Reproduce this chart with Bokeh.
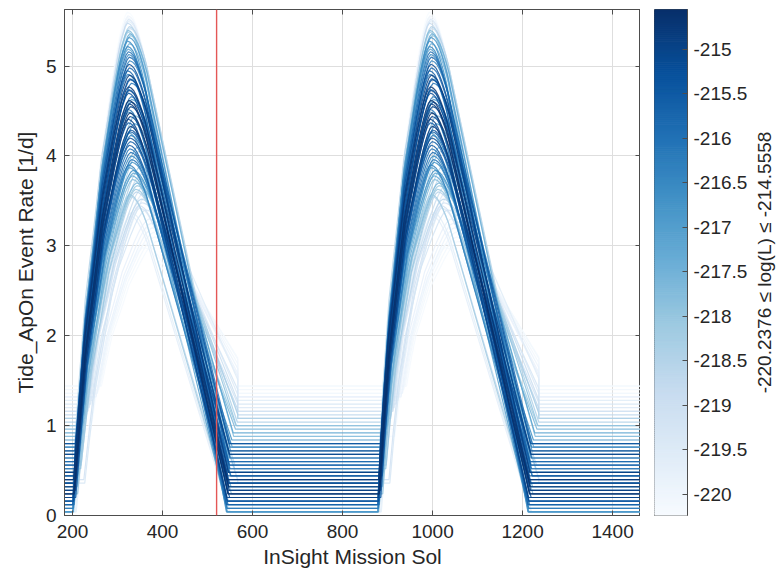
import numpy as np
from bokeh.plotting import figure
from bokeh.models import Range1d, LinearAxis, FixedTicker, Span, LinearColorMapper, ColumnDataSource
from bokeh.palettes import Blues9
from bokeh.layouts import row
from bokeh.embed import file_html
from bokeh.resources import INLINE

# ---------------- data ----------------
X_MIN, X_MAX = 182, 1462
Y_MIN, Y_MAX = 0, 5.63
L_MIN, L_MAX = -220.2376, -214.5558
RED_SOL = 520

# common seasonal shape (fraction of amplitude) at sols of each cycle
SHAPE_FRAC = [0.0, 0.165, 0.35, 0.53, 0.70, 0.87, 0.93, 0.958, 0.978, 0.993, 1.0,
              0.997, 0.99, 0.977, 0.96, 0.937, 0.91, 0.0]
CYCLE1_SOL = [200, 211, 224, 244, 262, 289, 300, 306, 312, 317, 322,
              328, 334, 340, 346, 353, 360, 542]
CYCLE2_SOL = [878, 887, 899, 917, 934, 961, 972, 978, 983, 988, 993,
              999, 1005, 1011, 1017, 1024, 1031, 1212]
CUT_SOL = [567, 1236]

# one entry per model curve: baseline rate, peak rate, onset shift (sols), log-likelihood
BASE = [0.24, 0.32, 0.40, 0.28, 0.48, 0.20, 0.68, 0.72, 0.44, 0.16, 0.80, 0.36, 0.56,
        0.12, 0.60, 0.52, 0.28, 0.44, 0.08, 0.76, 0.32, 0.16,
        0.04, 0.84, 0.48, 0.04, 0.92, 0.32, 0.64, 0.96, 0.04, 1.00, 0.52, 0.12, 1.08, 0.76,
        1.12, 0.04, 1.16, 0.40, 1.24, 0.24, 1.28, 0.04, 1.32, 0.16, 1.40, 1.44, 0.96, 0.08,
        0.24, 0.36, 0.40, 0.20, 0.48, 0.16, 0.64, 0.68, 0.36, 0.12, 0.80, 0.32, 0.56, 0.12,
        0.60, 0.52, 0.28, 0.44, 0.08, 0.72, 0.36, 0.20, 0.76, 0.48, 0.88, 0.24, 0.64, 1.00,
        0.04, 1.04, 0.56, 0.16, 1.08, 0.68, 1.16, 0.36, 1.20, 0.12, 1.32, 1.36, 0.04, 1.44,
        0.88, 0.04]
PEAK = [4.62, 4.48, 4.77, 4.33, 4.90, 4.41, 4.55, 4.20, 5.02, 4.70, 4.85, 4.12, 4.27,
        4.95, 5.10, 4.04, 5.16, 3.96, 4.52, 4.66, 3.90, 5.22,
        5.28, 3.84, 5.32, 4.26, 4.36, 3.78, 5.36, 3.70, 5.40, 4.10, 3.63, 3.57, 3.88, 5.44,
        3.52, 5.48, 3.66, 3.45, 3.40, 5.52, 3.58, 3.33, 3.25, 5.56, 3.15, 3.05, 2.98, 5.60,
        4.58, 4.44, 4.73, 4.29, 4.86, 4.37, 4.60, 4.16, 4.98, 4.74, 4.81, 4.08, 4.23, 4.91,
        5.06, 4.00, 5.13, 3.93, 4.49, 4.63, 3.87, 5.19, 3.81, 5.25, 4.45, 3.74, 5.34, 3.67,
        5.38, 4.05, 3.60, 3.55, 3.80, 5.42, 3.48, 3.42, 3.60, 5.50, 3.30, 3.20, 5.54, 3.10,
        3.02, 3.37]
SHIFT = [3, 5, 2, 6, 4, 1, 7, 5, 3, 2, 6, 4, 6,
         0, 4, 7, 2, 9, 1, 8, 3, 0,
         0, 12, 3, 2, 15, 10, 5, 20, 1, 22, 18, 4, 28, 4,
         30, 0, 34, 25, 40, 2, 45, 6, 52, 1, 58, 64, 35, 0,
         4, 6, 3, 7, 5, 2, 8, 6, 4, 3, 9, 5, 7, 1,
         5, 8, 3, 10, 2, 9, 4, 1, 13, 4, 16, 11, 6, 21,
         1, 24, 19, 5, 29, 5, 32, 27, 37, 2, 48, 55, 0, 61,
         38, 8]
LOGL = [-214.56, -214.62, -214.70, -214.78, -214.85, -214.93, -215.00, -215.10, -215.18,
        -215.25, -215.35, -215.45, -215.55, -215.65, -215.75, -215.85, -215.95, -216.05,
        -216.15, -216.25, -216.35, -216.45,
        -216.6, -216.7, -216.85, -217.0, -217.15, -217.3, -217.45, -217.6, -217.75, -217.9,
        -218.05, -218.2, -218.35, -218.5,
        -218.65, -218.8, -218.95, -219.1, -219.25, -219.4, -219.55, -219.7, -219.85, -219.95,
        -220.05, -220.15, -220.2, -220.23,
        -214.9, -215.05, -215.15, -215.3, -215.4, -215.5, -215.6, -215.7, -215.8, -215.9,
        -216.0, -216.1, -216.2, -216.3, -216.4, -216.5, -216.55, -216.65, -216.75, -216.9,
        -217.05, -217.2, -217.35, -217.5, -217.65, -217.8, -217.95, -218.1, -218.25, -218.4,
        -218.55, -218.7, -218.85, -219.0, -219.15, -219.3, -219.45, -219.6, -219.75, -219.9,
        -220.0, -220.1, -220.2, -219.65]

X_TICKS = [200, 400, 600, 800, 1000, 1200, 1400]
Y_TICKS = [0, 1, 2, 3, 4, 5]
CB_TICKS = [-220, -219.5, -219, -218.5, -218, -217.5, -217, -216.5, -216, -215.5, -215]
CB_TICK_LABELS = ["-220", "-219.5", "-219", "-218.5", "-218", "-217.5", "-217",
                  "-216.5", "-216", "-215.5", "-215"]
CB_TITLE = "-220.2376 \u2264 log(L) \u2264 -214.5558"
X_LABEL = "InSight Mission Sol"
Y_LABEL = "Tide_ApOn Event Rate [1/d]"

# ---------------- palette (white -> dark blue) ----------------
def hex2rgb(h):
    h = h.lstrip('#')
    return [int(h[i:i + 2], 16) for i in (0, 2, 4)]

stops = np.array([hex2rgb(c) for c in reversed(Blues9)], dtype=float)
pos = np.linspace(0, 1, len(stops))
tt = np.linspace(0, 1, 256)
palette = ['#%02x%02x%02x' % tuple(int(round(np.interp(t, pos, stops[:, k]))) for k in range(3)) for t in tt]
mapper = LinearColorMapper(palette=palette, low=L_MIN, high=L_MAX)

# ---------------- build curves ----------------
def build_curve(b, pk, dt):
    amp = pk - b
    xs, ys = [X_MIN], [b]
    for sols, cut in zip((CYCLE1_SOL, CYCLE2_SOL), CUT_SOL):
        s = np.array(sols, dtype=float) + dt
        v = b + amp * np.array(SHAPE_FRAC)
        keep = s <= cut
        xs += list(s[keep]); ys += list(v[keep])
        if not keep.all():
            vc = float(np.interp(cut, s, v))
            xs += [cut, cut]; ys += [vc, b]
    xs.append(X_MAX); ys.append(b)
    return xs, ys

order = np.argsort(LOGL)
XS, YS, LL = [], [], []
for i in order:
    x, y = build_curve(BASE[i], PEAK[i], SHIFT[i])
    XS.append(x); YS.append(y); LL.append(LOGL[i])
src = ColumnDataSource(dict(xs=XS, ys=YS, L=LL))

FONT = "Liberation Sans"
TXT = "#262626"
AX = "#4d4d4d"

p = figure(frame_width=576, frame_height=506, x_range=Range1d(X_MIN, X_MAX),
           y_range=Range1d(Y_MIN, Y_MAX), toolbar_location=None, output_backend="svg",
           min_border_left=64, min_border_right=0, min_border_top=9, min_border_bottom=67)
p.multi_line(xs='xs', ys='ys', source=src, line_width=1.2, line_alpha=0.85,
             line_color={'field': 'L', 'transform': mapper})
p.add_layout(Span(location=RED_SOL, dimension='height', line_color='#e45756', line_width=1.4))

p.xaxis.ticker = FixedTicker(ticks=X_TICKS)
p.yaxis.ticker = FixedTicker(ticks=Y_TICKS)
p.xaxis.axis_label = X_LABEL
p.yaxis.axis_label = Y_LABEL
for ax in (p.xaxis[0], p.yaxis[0]):
    ax.major_tick_in = 5
    ax.major_tick_out = 0
    ax.minor_tick_line_color = None
    ax.axis_line_color = AX
    ax.major_tick_line_color = AX
    ax.major_label_text_font = FONT
    ax.major_label_text_font_size = "19px"
    ax.major_label_text_color = TXT
    ax.axis_label_text_font = FONT
    ax.axis_label_text_font_size = "21px"
    ax.axis_label_text_font_style = "normal"
    ax.axis_label_text_color = TXT
p.yaxis.major_label_standoff = 8
p.yaxis.axis_label_standoff = 6
p.xaxis.major_label_standoff = 9
p.xaxis.axis_label_standoff = 4

# box ticks on the top and right edges (no labels)
for side, tick in (("above", X_TICKS), ("right", Y_TICKS)):
    a = LinearAxis(ticker=FixedTicker(ticks=tick), major_label_text_font_size="1px",
                   major_label_text_color=None, major_label_standoff=0,
                   major_tick_in=5, major_tick_out=0,
                   minor_tick_line_color=None, axis_line_color=AX, major_tick_line_color=AX)
    p.add_layout(a, side)

p.xgrid.ticker = FixedTicker(ticks=X_TICKS)
p.ygrid.ticker = FixedTicker(ticks=Y_TICKS)
p.grid.grid_line_color = "#dedede"
p.outline_line_color = AX

# ---------------- colour bar figure ----------------
cb = figure(frame_width=33, frame_height=506, x_range=Range1d(0, 1), y_range=Range1d(L_MIN, L_MAX),
            toolbar_location=None, output_backend="svg", y_axis_location="right",
            min_border_left=14, min_border_right=60, min_border_top=9, min_border_bottom=67)
levels = np.linspace(L_MIN, L_MAX, len(palette) + 1)
cb.quad(left=0, right=1, bottom=levels[:-1], top=levels[1:], fill_color=palette, line_color=palette)
cb.xaxis.visible = False
cb.grid.visible = False
cb.outline_line_color = AX
cy = cb.yaxis[0]
cy.ticker = FixedTicker(ticks=CB_TICKS)
cy.major_label_overrides = {float(t): s for t, s in zip(CB_TICKS, CB_TICK_LABELS)}
cy.major_tick_in = 5
cy.major_tick_out = 0
cy.minor_tick_line_color = None
cy.axis_line_color = AX
cy.major_tick_line_color = AX
cy.major_label_text_font = FONT
cy.major_label_text_font_size = "19px"
cy.major_label_text_color = TXT
cy.major_label_standoff = 6

# ---------------- colour bar title (left-axis label of a thin figure) ----------------
tf = figure(frame_width=1, frame_height=506, x_range=Range1d(0, 1), y_range=Range1d(L_MIN, L_MAX),
            toolbar_location=None, output_backend="svg",
            min_border_left=28, min_border_right=0, min_border_top=9, min_border_bottom=67)
tf.xaxis.visible = False
tf.grid.visible = False
tf.outline_line_color = None
ty = tf.yaxis[0]
ty.ticker = FixedTicker(ticks=[])
ty.axis_line_color = None
ty.major_tick_line_color = None
ty.minor_tick_line_color = None
ty.axis_label = CB_TITLE
ty.axis_label_text_font = FONT
ty.axis_label_text_font_size = "19px"
ty.axis_label_text_font_style = "normal"
ty.axis_label_text_color = TXT
ty.axis_label_standoff = 4

layout = row(p, cb, tf)
open("out.html", "w").write(file_html(layout, INLINE))
